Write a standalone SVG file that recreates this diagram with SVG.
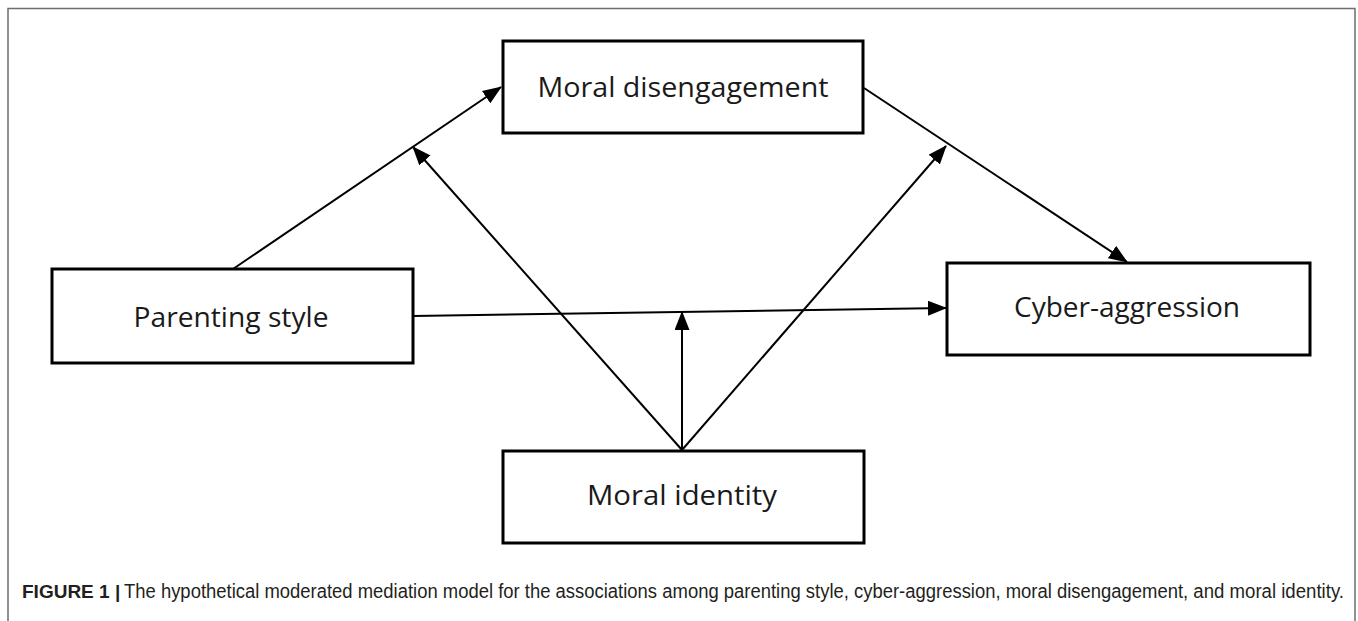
<svg xmlns="http://www.w3.org/2000/svg" width="1358" height="621" viewBox="0 0 1358 621">
  <style>
    .box { fill: #ffffff; stroke: #000000; stroke-width: 3; }
    .lbl { font-family: "Open Sans", "Noto Sans", sans-serif; font-size: 28px; fill: #1a1a1a; text-anchor: middle; }
    .edge { fill: none; stroke: #000000; stroke-width: 2; marker-end: url(#arrow); }
    .cap { font-family: "Liberation Sans", Arial, sans-serif; font-size: 19.5px; fill: #231f20; }
    .capb { font-family: "Liberation Sans", Arial, sans-serif; font-size: 19px; font-weight: bold; fill: #231f20; }
  </style>
  <defs>
    <marker id="arrow" markerUnits="userSpaceOnUse" markerWidth="19" markerHeight="15" refX="18" refY="7.5" orient="auto">
      <path d="M0,0 L19,7.5 L0,15 Z" fill="#000000"/>
    </marker>
  </defs>
  <rect width="1358" height="621" fill="#ffffff"/>
  <path d="M8,621 V8.5 H1355 V621" fill="none" stroke="#6e6e6e" stroke-width="1.5"/>

  <g id="connectors">
    <line class="edge" x1="233" y1="269" x2="501" y2="87"/>
    <line class="edge" x1="864" y1="88" x2="1127" y2="262"/>
    <line class="edge" x1="413" y1="316" x2="946" y2="308"/>
    <line class="edge" x1="682" y1="450" x2="413" y2="147"/>
    <line class="edge" x1="682" y1="450" x2="946" y2="146"/>
    <line class="edge" x1="682" y1="450" x2="682" y2="312"/>
  </g>

  <g id="moral-disengagement">
    <rect class="box" x="503" y="41" width="360" height="92"/>
    <text class="lbl" x="683" y="97" textLength="291" lengthAdjust="spacingAndGlyphs">Moral disengagement</text>
  </g>
  <g id="parenting-style">
    <rect class="box" x="52" y="269" width="361" height="94"/>
    <text class="lbl" x="231" y="327" textLength="195" lengthAdjust="spacingAndGlyphs">Parenting style</text>
  </g>
  <g id="cyber-aggression">
    <rect class="box" x="947" y="263" width="363" height="92"/>
    <text class="lbl" x="1127" y="317" textLength="226" lengthAdjust="spacingAndGlyphs">Cyber-aggression</text>
  </g>
  <g id="moral-identity">
    <rect class="box" x="503" y="451" width="361" height="92"/>
    <text class="lbl" x="682" y="505" textLength="190" lengthAdjust="spacingAndGlyphs">Moral identity</text>
  </g>

  <g id="caption">
    <text class="capb" x="22" y="598">FIGURE 1 |</text>
    <text class="cap" x="124" y="598" textLength="533" lengthAdjust="spacingAndGlyphs">The hypothetical moderated mediation model for the associations</text>
    <text class="cap" x="662.3" y="598" textLength="338.3" lengthAdjust="spacingAndGlyphs">among parenting style, cyber-aggression,</text>
    <text class="cap" x="1005.7" y="598" textLength="182.5" lengthAdjust="spacingAndGlyphs">moral disengagement,</text>
    <text class="cap" x="1193.3" y="598" textLength="150.7" lengthAdjust="spacingAndGlyphs">and moral identity.</text>
  </g>
</svg>
